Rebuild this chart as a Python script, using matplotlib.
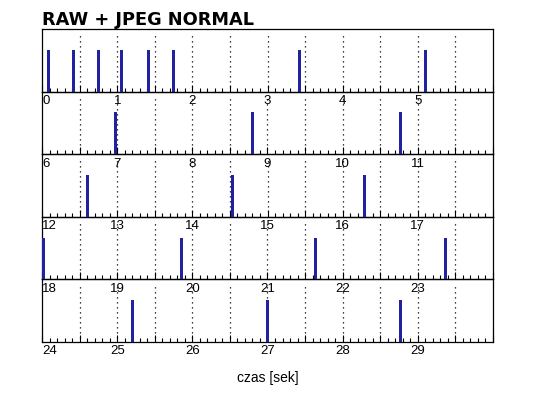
import matplotlib
matplotlib.use('Agg')
import matplotlib.pyplot as plt
import numpy as np

# czasy zdjęć [s]
shot_times = [0.08, 0.41, 0.75, 1.05, 1.42, 1.75, 3.43, 5.11,
              6.98, 8.80, 10.77,
              12.60, 14.53, 16.29,
              18.02, 19.85, 21.64, 23.37,
              25.20, 27.00, 28.77]
row_len = 6          # sekund na wiersz
n_rows = 5
title = 'RAW + JPEG NORMAL'
xlabel = 'czas [sek]'

bar_color = '#2222a0'

W, H = 538, 398
fig = plt.figure(figsize=(W / 100, H / 100), dpi=100)

left, right = 42.3 / W, 492.7 / W
top_px, bot_px = 29, 342
row_h = (bot_px - top_px) / n_rows

shots = np.array(shot_times)
for r in range(n_rows):
    y0 = 1 - (top_px + (r + 1) * row_h) / H
    ax = fig.add_axes([left, y0, right - left, row_h / H])
    x0, x1 = r * row_len, (r + 1) * row_len
    ax.set_xlim(x0, x1)
    ax.set_ylim(0, 1.5)

    # siatka co 0.5 s
    for g in np.arange(x0 + 0.5, x1, 0.5):
        ax.axvline(g, ymin=0.07, ymax=0.93, color='black', lw=0.9,
                   linestyle=(0, (1, 3)), zorder=1)

    sel = shots[(shots >= x0) & (shots < x1)]
    ax.bar(sel, np.ones_like(sel), width=0.04, color=bar_color,
           align='center', zorder=3)

    ax.set_yticks([])
    ax.set_xticks(np.arange(x0, x1 + 0.01, 0.5))
    ax.set_xticks(np.arange(x0, x1 + 0.01, 0.1), minor=True)
    labels = [str(int(v)) if (v == int(v) and v < x1) else ''
              for v in np.arange(x0, x1 + 0.01, 0.5)]
    ax.set_xticklabels(labels, fontsize=9.5, family=['Liberation Sans', 'DejaVu Sans'])
    ax.tick_params(axis='x', which='major', direction='in', length=5,
                   width=0.8, pad=2.5)
    ax.tick_params(axis='x', which='minor', direction='in', length=3,
                   width=0.8)
    ax.get_xticklabels()[0].set_horizontalalignment('left')
    for s in ax.spines.values():
        s.set_linewidth(0.9)
    ax.set_zorder(n_rows - r)
    ax.patch.set_alpha(0)

    if r == 0:
        ax.set_title(title, loc='left', fontsize=12.8, fontweight='bold',
                     pad=3, family=['DejaVu Sans'])
    if r == n_rows - 1:
        ax.set_xlabel(xlabel, fontsize=10, labelpad=10,
                      family=['Liberation Sans', 'DejaVu Sans'])

fig.savefig('out.png', dpi=100, facecolor='white')
